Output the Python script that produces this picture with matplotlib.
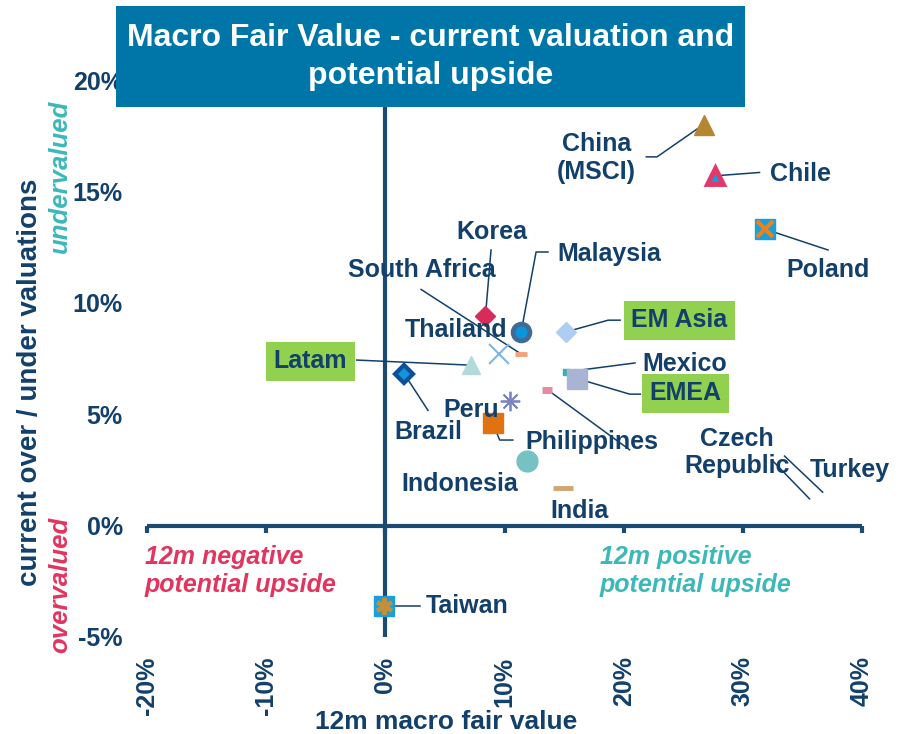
import matplotlib
matplotlib.use('Agg')
import matplotlib.pyplot as plt
from matplotlib import font_manager
from matplotlib.patches import Rectangle

NAVY = '#12406B'
TEAL = '#3CB8B8'
PINK = '#E2345F'
GREEN = '#92D050'

# 12m macro fair value (x) vs current over/under valuation (y), in %
countries = ['China (MSCI)', 'Chile', 'Poland', 'Korea', 'Malaysia', 'EM Asia',
             'Thailand', 'South Africa', 'Latam', 'Brazil', 'Mexico', 'EMEA',
             '', 'Peru', 'Philippines', 'Indonesia', 'India', 'Taiwan',
             'Czech Republic', 'Turkey']
fair_value = [26.7, 27.7, 31.9, 8.4, 11.4, 15.2,
              9.5, 11.4, 7.2, 1.6, 15.2, 16.1,
              13.6, 10.5, 9.0, 11.9, 14.9, -0.1,
              35.6, 36.7]
valuation = [18.0, 15.7, 13.3, 9.4, 8.7, 8.7,
             7.7, 7.7, 7.2, 6.8, 6.9, 6.6,
             6.1, 5.6, 4.6, 2.9, 1.7, -3.6,
             1.2, 1.5]

x_ticks = [-20, -10, 0, 10, 20, 30, 40]
x_tick_labels = ['-20%', '-10%', '0%', '10%', '20%', '30%', '40%']
y_ticks = [-5, 0, 5, 10, 15, 20]
y_tick_labels = ['-5%', '0%', '5%', '10%', '15%', '20%']

# marker layers per country: (marker, size, face, edge, edge width)
styles = {
    'China (MSCI)': [('^', 14, '#B5862F', '#B5862F', 1)],
    'Chile': [('^', 12, '#1A9AD7', '#E2386A', 3.5)],
    'Poland': [('s', 14, '#1A9FDB', '#1A9FDB', 1), ('x', 11, 'none', '#E8841F', 3)],
    'Korea': [('D', 10, '#D92B59', '#D92B59', 1)],
    'Malaysia': [('o', 12, '#0A96DC', '#3F6C97', 3.5)],
    'EM Asia': [('D', 10, '#AFCDF0', '#AFCDF0', 1)],
    'Thailand': [('x', 14, 'none', '#7DB7E8', 1.5)],
    'South Africa': [('_', 8, 'none', '#F3A27B', 3.5)],
    'Latam': [('^', 13, '#B2DADB', '#B2DADB', 1)],
    'Brazil': [('D', 9, '#1294D6', '#0C4F9B', 3)],
    'Mexico': [('s', 4, '#3AAFB0', '#3AAFB0', 1)],
    'EMEA': [('s', 14, '#A9B4D4', '#A9B4D4', 1)],
    '': [('_', 7, 'none', '#E48BA1', 5)],
    'Peru': [((8, 2, 0), 14, 'none', '#7B86C0', 1.3)],
    'Philippines': [('s', 14, '#E07310', '#E07310', 1)],
    'Indonesia': [('o', 15, '#76C1C3', '#76C1C3', 1)],
    'India': [('_', 14, 'none', '#D1A672', 3.5)],
    'Taiwan': [('s', 14, '#1A9FDB', '#1A9FDB', 1), ((6, 2, 0), 12, 'none', '#C0913A', 3)],
    'Czech Republic': [],
    'Turkey': [],
}

# leader lines: from the point out to these label-side positions
leaders = {
    'China (MSCI)': [(22.8, 16.55), (21.9, 16.55)],
    'Chile': [(31.4, 15.85)],
    'Poland': [(37.15, 12.37)],
    'Korea': [(8.87, 12.37)],
    'Malaysia': [(12.65, 12.28), (13.65, 12.28)],
    'EM Asia': [(18.7, 9.22), (19.7, 9.22)],
    'South Africa': [(3.0, 10.6)],
    'Latam': [(-2.4, 7.43)],
    'Brazil': [(3.58, 5.17)],
    'Mexico': [(20.95, 7.3)],
    'EMEA': [(20.5, 5.9), (21.4, 5.9)],
    '': [(20.5, 3.4)],
    'Philippines': [(9.6, 3.84), (10.7, 3.84)],
    'Taiwan': [(2.9, -3.6)],
    'Czech Republic': [(32.45, 2.94)],
    'Turkey': [(33.5, 3.12)],
}

# (text, x, y, ha, green box)
labels = [
    ('China\n(MSCI)', 17.7, 16.5, 'center', False),
    ('Chile', 32.3, 15.8, 'left', False),
    ('Poland', 37.15, 11.45, 'center', False),
    ('Korea', 8.95, 13.2, 'center', False),
    ('Malaysia', 14.4, 12.2, 'left', False),
    ('South Africa', 3.05, 11.45, 'center', False),
    ('Thailand', 5.9, 8.8, 'center', False),
    ('EM Asia', 24.65, 9.22, 'center', True),
    ('Latam', -6.3, 7.38, 'center', True),
    ('Brazil', 3.6, 4.2, 'center', False),
    ('Mexico', 21.6, 7.25, 'left', False),
    ('EMEA', 25.2, 5.95, 'center', True),
    ('Peru', 7.2, 5.19, 'center', False),
    ('Philippines', 17.35, 3.75, 'center', False),
    ('Indonesia', 6.27, 1.87, 'center', False),
    ('India', 16.3, 0.65, 'center', False),
    ('Czech\nRepublic', 29.5, 3.28, 'center', False),
    ('Turkey', 39.0, 2.5, 'center', False),
    ('Taiwan', 3.35, -3.6, 'left', False),
]

plt.rcParams['font.family'] = ['Liberation Sans', 'DejaVu Sans']
plt.rcParams['font.weight'] = 'bold'

available = {f.name for f in font_manager.fontManager.ttflist}
if 'Liberation Sans Narrow' in available:
    title_font, title_size, title_ls = ['Liberation Sans Narrow', 'Liberation Sans'], 28, 1.15
else:
    title_font, title_size, title_ls = ['Liberation Sans', 'DejaVu Sans'], 23, 1.35

fig = plt.figure(figsize=(9.06, 7.34), dpi=100)
ax = fig.add_axes([147 / 906, 97 / 734, 715 / 906, 557 / 734])
ax.set_xlim(-20, 40)
ax.set_ylim(-5, 20)

# horizontal axis through 0 (top spine moved down, ticks pointing below)
ax.spines['bottom'].set_visible(False)
ax.spines['left'].set_visible(False)
ax.spines['top'].set_position(('data', 0))
ax.spines['right'].set_position(('data', 0))
for s in ('top', 'right'):
    ax.spines[s].set_color('#1B4A72')
    ax.spines[s].set_linewidth(3)
    ax.spines[s].set_capstyle('butt')

ax.set_xticks(x_ticks)
ax.set_xticklabels(x_tick_labels)
ax.set_yticks(y_ticks)
ax.set_yticklabels(y_tick_labels)
ax.tick_params(axis='x', bottom=False, top=True, labelbottom=True, labeltop=False,
               direction='in', length=5, width=3, color='#1B4A72',
               pad=14, labelrotation=90, labelsize=18, labelcolor=NAVY)
ax.tick_params(axis='y', left=False, right=False, labelleft=True, labelright=False,
               pad=14, labelsize=18, labelcolor=NAVY)

for name, x, y in zip(countries, fair_value, valuation):
    if name in leaders:
        pts = leaders[name]
        ax.plot([x] + [p[0] for p in pts], [y] + [p[1] for p in pts],
                color=NAVY, lw=1.1, zorder=3, clip_on=False)

for name, x, y in zip(countries, fair_value, valuation):
    for k, (m, ms, fc, ec, mew) in enumerate(styles[name]):
        ax.plot([x], [y], linestyle='none', marker=m, markersize=ms,
                markerfacecolor=fc, markeredgecolor=ec, markeredgewidth=mew,
                zorder=4 + k, clip_on=False)

for text, x, y, ha, boxed in labels:
    kw = {}
    if boxed:
        kw['bbox'] = dict(boxstyle='square,pad=0.3', facecolor=GREEN, edgecolor='none')
    ax.text(x, y, text, ha=ha, va='center', fontsize=18, color=NAVY,
            linespacing=1.2, zorder=6, **kw)

ax.text(-20.2, -2.05, '12m negative\npotential upside', ha='left', va='center',
        fontsize=18, style='italic', color=PINK, linespacing=1.2)
ax.text(18.0, -2.05, '12m positive\npotential upside', ha='left', va='center',
        fontsize=18, style='italic', color=TEAL, linespacing=1.2)

fig.text(30 / 906, 1 - 382 / 734, 'current over / under valuations', rotation=90,
         ha='center', va='center', fontsize=20, color=NAVY)
fig.text(60 / 906, 1 - 176 / 734, 'undervalued', rotation=90, ha='center',
         va='center', fontsize=18.5, style='italic', color=TEAL)
fig.text(60 / 906, 1 - 585 / 734, 'overvalued', rotation=90, ha='center',
         va='center', fontsize=18.5, style='italic', color=PINK)
fig.text(446 / 906, 1 - 722 / 734, '12m macro fair value', ha='center', va='center',
         fontsize=19, color=NAVY)

# title banner
fig.patches.append(Rectangle((116 / 906, 1 - 107 / 734), 629 / 906, 101 / 734,
                             transform=fig.transFigure, facecolor='#0076A8',
                             edgecolor='none', zorder=5))
fig.text(430.5 / 906, 1 - 57 / 734, 'Macro Fair Value - current valuation and\npotential upside',
         ha='center', va='center', fontsize=title_size, color='white',
         family=title_font, linespacing=title_ls, zorder=6)

fig.savefig('out.png', dpi=100)
